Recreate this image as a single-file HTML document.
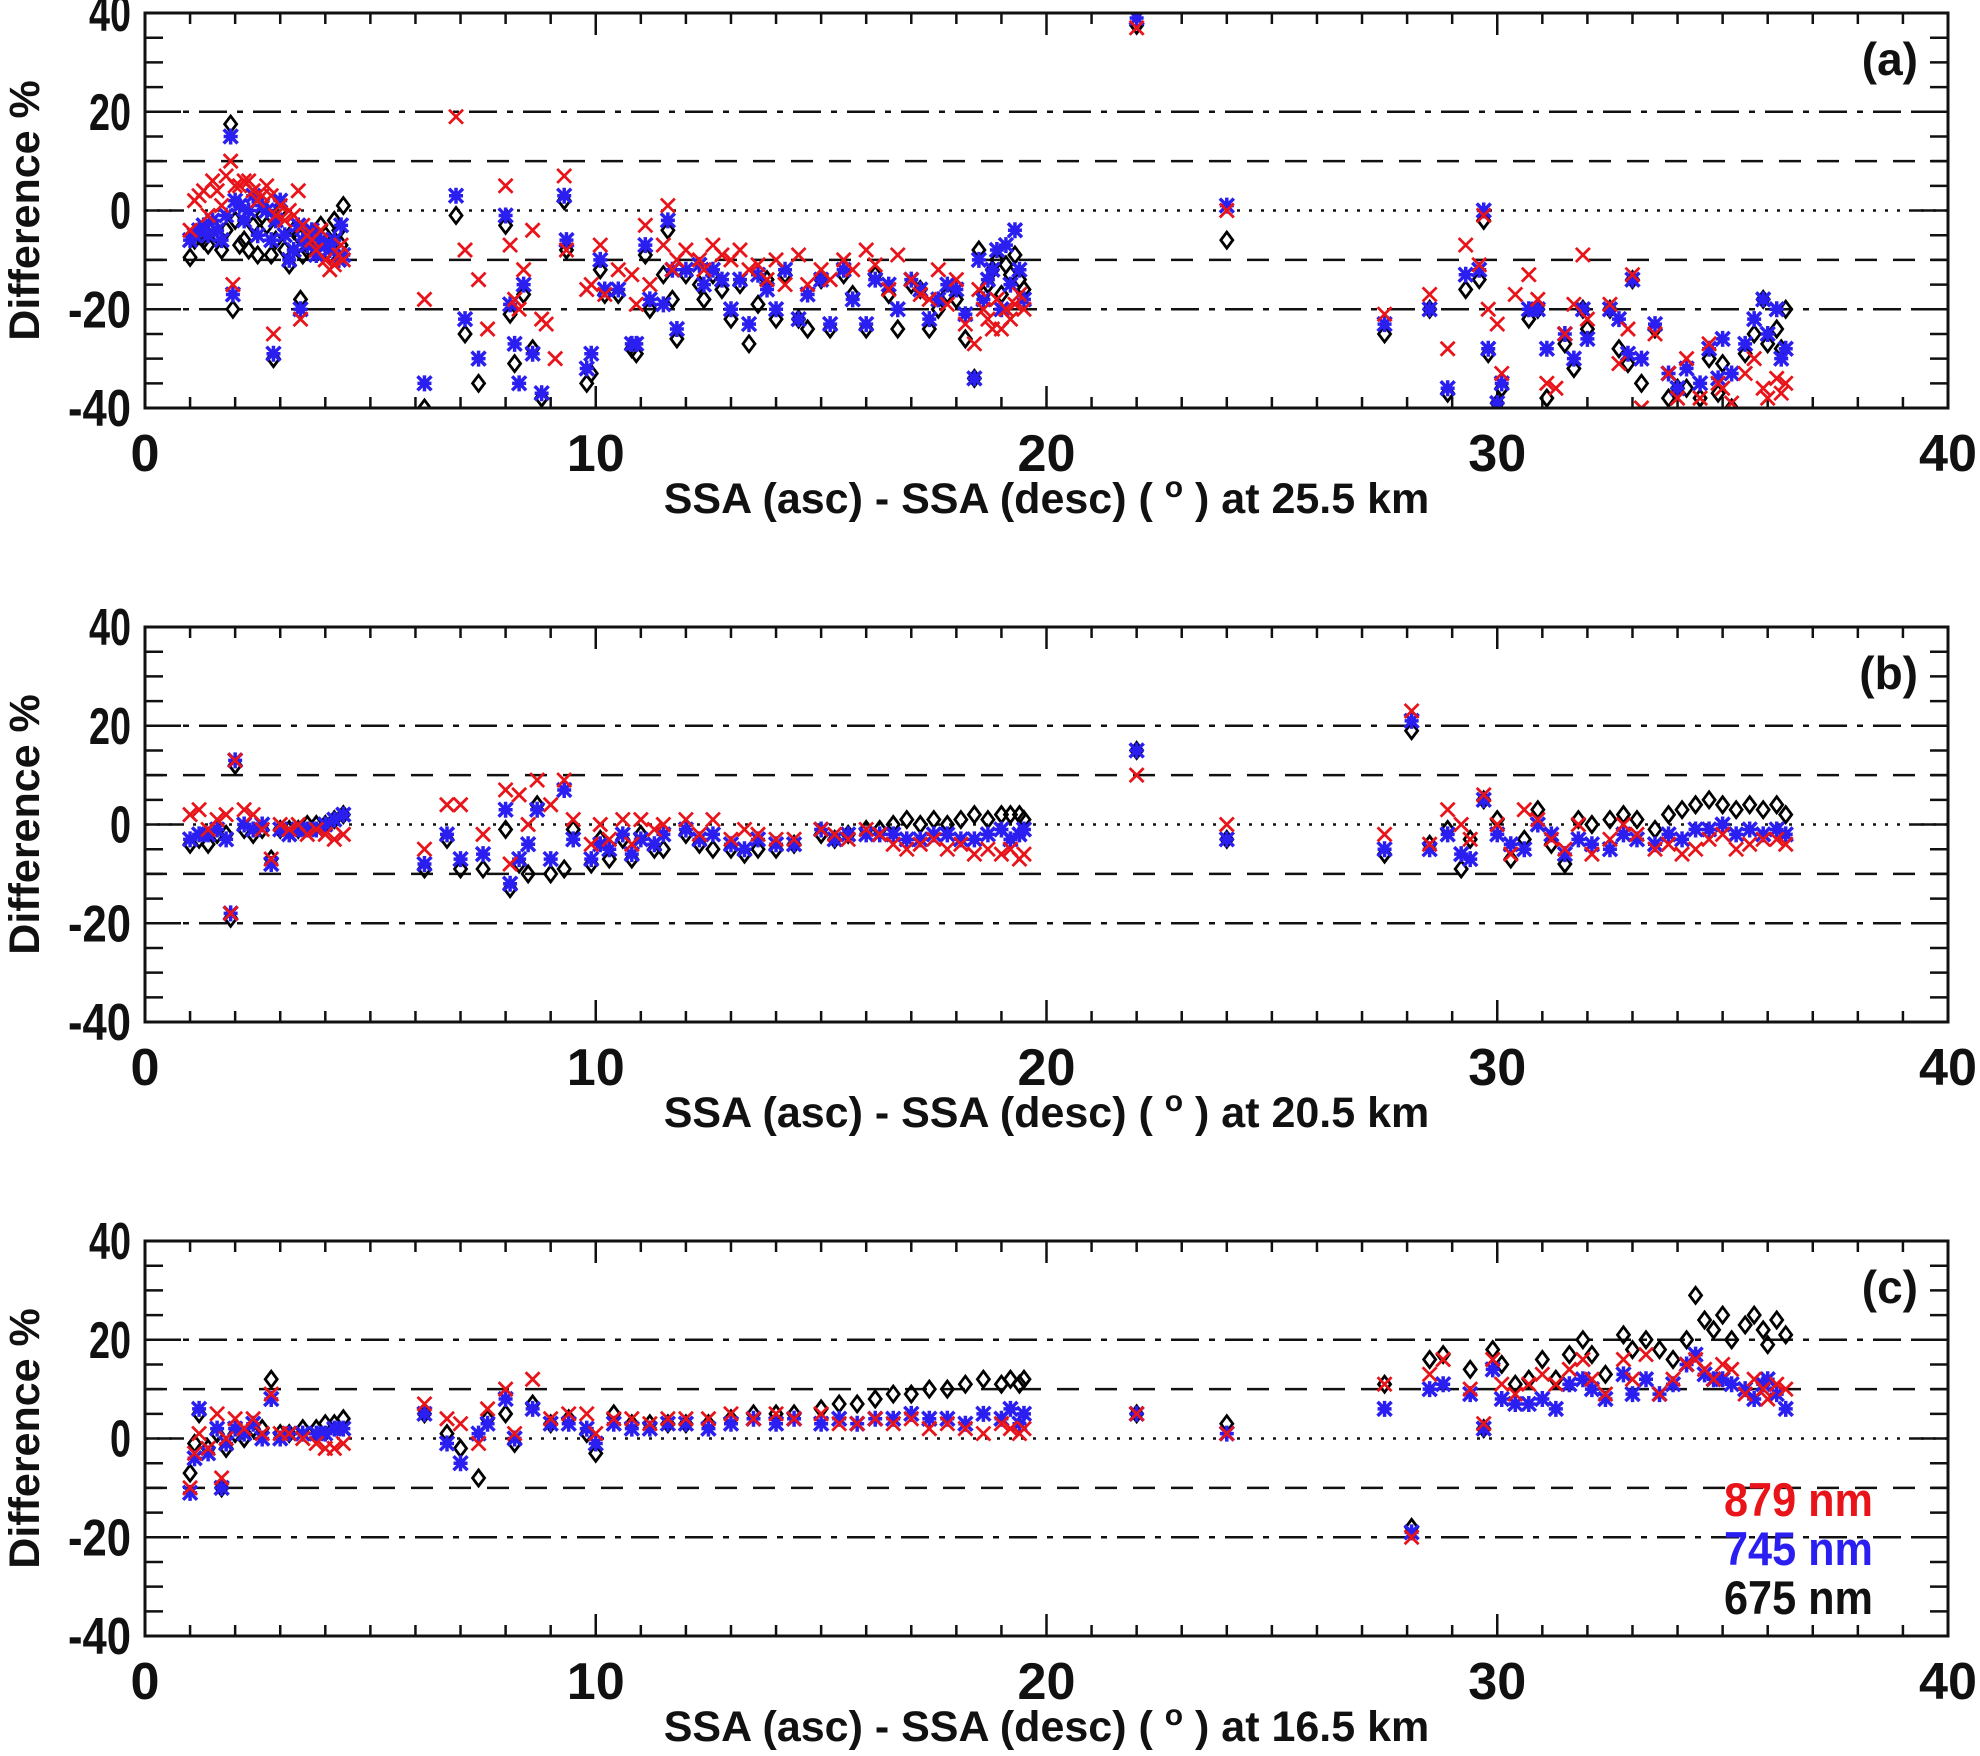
<!DOCTYPE html>
<html><head><meta charset="utf-8">
<style>
html,body{margin:0;padding:0;background:#fff;}
svg{display:block;font-family:"Liberation Sans",Arial,sans-serif;}
</style></head>
<body>
<svg id="chart" width="1980" height="1756" viewBox="0 0 1980 1756" xmlns="http://www.w3.org/2000/svg"></svg>
<script>
// ---- Data (x = SSA difference in degrees, values = Difference %) ----
const xTicks = [0, 10, 20, 30, 40];
const yTicks = [-40, -20, 0, 20, 40];
const panelLabels = ["(a)", "(b)", "(c)"];
const altitudes = ["25.5", "20.5", "16.5"];
const legendLabels = ["879 nm", "745 nm", "675 nm"];

const xA = [1.0,1.1,1.2,1.3,1.4,1.5,1.6,1.7,1.8,1.9,1.95,2.0,2.1,2.2,2.3,2.4,2.5,2.6,2.7,2.8,2.85,2.9,3.0,3.1,3.2,3.3,3.4,3.45,3.5,3.6,3.7,3.8,3.9,4.0,4.1,4.2,4.3,4.35,4.4,
6.2,6.9,7.1,7.4,7.6,8.0,8.1,8.2,8.3,8.4,8.6,8.8,8.9,9.1,9.3,9.35,9.8,9.9,10.1,10.2,10.5,10.8,10.9,11.1,11.2,11.5,11.6,11.7,11.8,12.0,12.3,12.4,12.6,12.8,13.0,13.2,13.4,13.6,13.8,14.0,14.2,14.5,14.7,15.0,15.2,15.5,15.7,16.0,16.2,16.5,16.7,17.0,17.2,17.4,17.6,17.8,18.0,18.2,18.4,18.5,18.6,18.7,18.8,18.9,19.0,19.1,19.2,19.3,19.4,19.5,
22.0,24.0,27.5,28.5,28.9,29.3,29.6,29.7,29.8,30.0,30.1,30.4,30.7,30.9,31.1,31.3,31.5,31.7,31.9,32.0,32.5,32.7,32.9,33.0,33.2,33.5,33.8,34.0,34.2,34.5,34.7,34.9,35.0,35.2,35.5,35.7,35.9,36.0,36.2,36.3,36.4];
const redA = [-4,2,3,4,-1,6,4,1,7,10,-15,5,5,6,6,4,2,3,5,3,-25,-1,1,-2,0,-1,4,-22,-3,-5,-6,-8,-4,-10,-12,-11,-9,-7,-10,
-18,19,-8,-14,-24,5,-7,-18,-20,-12,-4,-22,-23,-30,7,-8,-16,-15,-7,-17,-12,-13,-19,-3,-15,-7,1,-12,-10,-8,-10,-12,-7,-9,-10,-8,-12,-11,-14,-10,-15,-9,-15,-12,-14,-10,-12,-8,-11,-16,-9,-14,-17,-18,-12,-19,-14,-23,-27,-16,-20,-22,-24,-18,-24,-20,-22,-19,-17,-20,
37,0,-21,-17,-28,-7,-11,-1,-20,-23,-33,-17,-13,-18,-35,-36,-25,-19,-9,-22,-19,-31,-24,-13,-40,-25,-33,-38,-30,-38,-27,-35,-36,-39,-33,-30,-36,-38,-34,-37,-35];
const blueA = [-6,-5,-4,-3,-5,-2,-4,-6,-1,15,-17,2,1,-2,0,3,-5,1,0,-6,-29,-2,2,-5,-10,-8,-3,-20,-6,-7,-4,-9,-6,-7,-8,-6,-10,-3,-9,
-35,3,-22,-30,-42,-1,-19,-27,-35,-15,-29,-37,-42,-45,3,-6,-32,-29,-10,-16,-16,-27,-27,-7,-18,-19,-2,-12,-24,-12,-11,-15,-12,-14,-20,-14,-23,-13,-16,-20,-12,-22,-17,-14,-23,-12,-18,-23,-14,-15,-20,-14,-16,-22,-18,-15,-16,-21,-34,-10,-18,-14,-12,-8,-20,-7,-15,-4,-12,-18,
39,1,-23,-20,-36,-13,-12,0,-28,-39,-35,-42,-20,-20,-28,-43,-25,-30,-20,-26,-20,-22,-29,-14,-30,-23,-33,-36,-32,-35,-28,-34,-26,-33,-27,-22,-18,-25,-20,-30,-28];
const blackA = [-9.5,-6,-5,-6,-7,-3,-5,-8,-4,17.5,-20,-2,-7,-6,-8,-3,-9,-1,-3,-9,-30,-6,0,-8,-11,-4,-5,-18,-9,-8,-5,-7,-3,-5,-9,-2,-4,-7,1,
-40,-1,-25,-35,-42,-3,-21,-31,-42,-17,-28,-38,-42,-45,2,-8,-35,-33,-12,-17,-17,-28,-29,-9,-20,-13,-4,-18,-26,-13,-15,-18,-13,-16,-22,-15,-27,-19,-14,-22,-13,-22,-24,-14,-24,-13,-17,-24,-13,-17,-24,-15,-16,-24,-20,-17,-18,-26,-34,-8,-17,-15,-12,-10,-17,-11,-13,-9,-14,-16,
37.5,-6,-25,-20,-37,-16,-14,-2,-29,-39,-36,-42,-22,-20,-38,-43,-27,-32,-20,-24,-20,-28,-31,-14,-35,-24,-38,-36,-36,-38,-30,-37,-31,-40,-29,-25,-18,-27,-24,-28,-20];

const xB = [1.0,1.2,1.4,1.6,1.8,1.9,2.0,2.2,2.4,2.6,2.8,3.0,3.2,3.4,3.6,3.8,4.0,4.2,4.4,
6.2,6.7,7.0,7.5,8.0,8.1,8.3,8.5,8.7,9.0,9.3,9.5,9.9,10.1,10.3,10.6,10.8,11.0,11.3,11.5,12.0,12.3,12.6,13.0,13.3,13.6,14.0,14.4,15.0,15.3,15.6,16.0,16.3,16.6,16.9,17.2,17.5,17.8,18.1,18.4,18.7,19.0,19.2,19.4,19.5,
22.0,24.0,27.5,28.1,28.5,28.9,29.2,29.4,29.7,30.0,30.3,30.6,30.9,31.2,31.5,31.8,32.1,32.5,32.8,33.1,33.5,33.8,34.1,34.4,34.7,35.0,35.3,35.6,35.9,36.2,36.4];
const redB = [2,3,-1,1,2,-18,13,3,2,-1,-7,0,-1,0,-2,-1,-2,-3,-2,
-5,4,4,-2,7,-8,6,0,9,4,9,1,-4,0,-3,1,-4,1,-1,0,1,-2,1,-3,-1,-2,-3,-3,-1,-2,-3,-1,-2,-4,-5,-4,-3,-5,-4,-6,-5,-6,-5,-7,-6,
10,0,-2,23,-4,3,0,-3,6,0,-6,3,1,-3,-5,0,-6,-3,0,-2,-5,-4,-6,-5,-3,-2,-5,-4,-3,-3,-4];
const blueB = [-3,-2,-2,-1,-3,-18,13,0,-1,0,-8,-1,-2,-1,-1,-1,0,1,2,
-8,-2,-7,-6,3,-12,-7,-4,3,-7,7,-3,-7,-4,-5,-2,-6,-3,-4,-2,-1,-3,-2,-4,-5,-3,-4,-4,-1,-3,-2,-2,-2,-2,-3,-3,-2,-2,-3,-3,-2,-1,-3,-2,-1,
15,-3,-5,21,-5,-2,-6,-7,5,-2,-4,-5,0,-2,-6,-3,-4,-5,-2,-3,-4,-2,-3,-1,-1,0,-2,-1,-2,-1,-2];
const blackB = [-4,-3,-4,-2,-2,-19,12,-1,-2,-1,-7,-1,-1,-1,0,0,0,1,2,
-9,-3,-9,-9,-1,-13,-8,-10,4,-10,-9,-1,-8,-3,-7,-3,-7,-2,-5,-5,-2,-4,-5,-5,-6,-5,-5,-4,-2,-3,-2,-1,-1,0,1,0,1,0,1,2,1,2,2,2,1,
15,-3,-6,19,-4,-1,-9,-3,5,1,-7,-3,3,-4,-8,1,0,1,2,1,-1,2,3,4,5,4,3,4,3,4,2];

const xC = [1.0,1.1,1.2,1.4,1.6,1.7,1.8,2.0,2.2,2.4,2.6,2.8,3.0,3.2,3.5,3.8,4.0,4.2,4.4,
6.2,6.7,7.0,7.4,7.6,8.0,8.2,8.6,9.0,9.4,9.8,10.0,10.4,10.8,11.2,11.6,12.0,12.5,13.0,13.5,14.0,14.4,15.0,15.4,15.8,16.2,16.6,17.0,17.4,17.8,18.2,18.6,19.0,19.2,19.4,19.5,
22.0,24.0,27.5,28.1,28.5,28.8,29.4,29.7,29.9,30.1,30.4,30.7,31.0,31.3,31.6,31.9,32.1,32.4,32.8,33.0,33.3,33.6,33.9,34.2,34.4,34.6,34.8,35.0,35.2,35.5,35.7,35.9,36.0,36.2,36.4];
const redC = [-10,-3,1,-2,5,-8,0,4,2,4,1,9,1,1,0,-1,-2,-2,-1,
7,4,3,-1,6,10,1,12,4,5,5,1,4,4,3,4,4,4,5,4,5,4,5,3,3,4,3,4,2,3,2,1,3,2,1,2,
5,1,11,-20,13,16,10,3,16,11,9,11,13,11,14,16,12,9,16,12,17,9,12,15,16,14,12,15,14,9,12,10,8,11,10];
const blueC = [-11,-4,6,-3,2,-10,-1,2,1,3,0,8,0,1,1,1,1,2,2,
5,-1,-5,1,3,8,0,6,3,3,2,-1,3,2,2,3,3,2,3,4,3,4,3,4,3,4,4,5,4,4,3,5,4,6,3,5,
5,1,6,-19,10,11,9,2,14,8,7,7,8,6,11,12,10,8,13,9,12,9,11,15,17,13,12,12,11,10,8,11,12,9,6];
const blackC = [-7,-1,5,-2,1,-10,-2,1,0,2,2,12,1,1,2,2,3,3,4,
5,1,-2,-8,4,5,-1,7,3,4,1,-3,5,3,3,3,3,3,4,5,5,5,6,7,7,8,9,9,10,10,11,12,11,12,11,12,
5,3,11,-18,16,17,14,2,18,15,11,12,16,12,17,20,17,13,21,18,20,18,16,20,29,24,22,25,20,23,25,22,19,24,21];

const panels = [
  {x: xA, red: redA, blue: blueA, black: blackA},
  {x: xB, red: redB, blue: blueB, black: blackB},
  {x: xC, red: redC, blue: blueC, black: blackC}
];

// ---- Layout ----
const NS = "http://www.w3.org/2000/svg";
const svg = document.getElementById("chart");
const L = 145, R = 1948, H = 395;
const tops = [13, 627, 1241];
function xs(v){ return L + (v - 0) / 40 * (R - L); }
function ysFor(top){ return function(v){ return top + (40 - v) / 80 * H; }; }

function mk(tag, attrs, parent){
  const e = document.createElementNS(NS, tag);
  for (const k in attrs) e.setAttribute(k, attrs[k]);
  (parent || svg).appendChild(e);
  return e;
}

panels.forEach(function(p, pi){
  const top = tops[pi];
  const ys = ysFor(top);
  const g = mk("g", {});
  
  

  const refs = [[20,"28 10 6 10"],[-20,"28 10 6 10"],[10,"22 16"],[-10,"22 16"],[0,"3 9"]];
  refs.forEach(function(r){
    const ln = mk("line", {x1:L, x2:R, y1:ys(r[0]), y2:ys(r[0]), stroke:"#111", "stroke-width":2.5, "stroke-dasharray":r[1]}, g);
    
    
  });

  for (let v = 0; v <= 40; v += 1){
    if (v === 0 || v === 40) continue;
    const len = (v % 10 === 0) ? 22 : 11;
    mk("line", {x1:xs(v), x2:xs(v), y1:top, y2:top+len, stroke:"#111","stroke-width":2.5}, g);
    mk("line", {x1:xs(v), x2:xs(v), y1:top+H, y2:top+H-len, stroke:"#111","stroke-width":2.5}, g);
  }
  for (let v = -35; v <= 35; v += 5){
    const len = (v % 20 === 0) ? 36 : 18;
    mk("line", {x1:L, x2:L+len, y1:ys(v), y2:ys(v), stroke:"#111","stroke-width":2.5}, g);
    mk("line", {x1:R, x2:R-len, y1:ys(v), y2:ys(v), stroke:"#111","stroke-width":2.5}, g);
  }

  const clip = "clip" + pi;
  const cp = mk("clipPath", {id: clip}, g);
  mk("rect", {x:L, y:top, width:R-L, height:H}, cp);
  const marks = mk("g", {"clip-path": "url(#" + clip + ")"}, g);

  p.x.forEach(function(xv, i){
    const cx = xs(xv), cy = ys(p.black[i]);
    const d = mk("path", {d:"M"+cx+" "+(cy-8)+"L"+(cx+6)+" "+cy+"L"+cx+" "+(cy+8)+"L"+(cx-6)+" "+cy+"Z", fill:"none", stroke:"#000","stroke-width":2.8}, marks);
    
    
  });
  p.x.forEach(function(xv, i){
    const cx = xs(xv), cy = ys(p.blue[i]), s = 7;
    const d = mk("path", {d:"M"+(cx-s)+" "+(cy-s)+"L"+(cx+s)+" "+(cy+s)+"M"+(cx+s)+" "+(cy-s)+"L"+(cx-s)+" "+(cy+s)+"M"+cx+" "+(cy-s-1)+"L"+cx+" "+(cy+s+1)+"M"+(cx-s)+" "+cy+"L"+(cx+s)+" "+cy, stroke:"#2a1ff0","stroke-width":3.5, fill:"none"}, marks);
    
    
  });
  p.x.forEach(function(xv, i){
    const cx = xs(xv), cy = ys(p.red[i]), s = 7;
    const d = mk("path", {d:"M"+(cx-s)+" "+(cy-s)+"L"+(cx+s)+" "+(cy+s)+"M"+(cx+s)+" "+(cy-s)+"L"+(cx-s)+" "+(cy+s), stroke:"#e8141a","stroke-width":2.8, fill:"none"}, marks);
    
    
  });

  const fr = mk("rect", {x:L, y:top, width:R-L, height:H, fill:"none", stroke:"#111","stroke-width":3}, g);
  
  

  yTicks.forEach(function(v){
    const t = mk("text", {x:131, y:ys(v)+18, "text-anchor":"end", "font-size":52, "font-weight":"bold", fill:"#111", "textLength": (String(v).length*21), "lengthAdjust":"spacingAndGlyphs"}, g);
    t.textContent = String(v);
    
    
  });
  xTicks.forEach(function(v){
    const t = mk("text", {x:xs(v), y:top+H+63, "text-anchor":"middle", "font-size":52, "font-weight":"bold", fill:"#111", "textLength": (String(v).length*29), "lengthAdjust":"spacingAndGlyphs"}, g);
    t.textContent = String(v);
    
    
  });
  const xt = mk("text", {x:(L+R)/2, y:top+H+105, "text-anchor":"middle", "font-size":43, "font-weight":"bold", fill:"#111"}, g);
  xt.innerHTML = 'SSA (asc) - SSA (desc) ( <tspan dy="-16" font-size="30">o</tspan><tspan dy="16"> ) at ' + altitudes[pi] + ' km</tspan>';
  
  
  const yt = mk("text", {x:0, y:0, transform:"translate(39," + (top+H/2) + ") rotate(-90)", "text-anchor":"middle", "font-size":43, "font-weight":"bold", fill:"#111"}, g);
  yt.textContent = "Difference %";
  
  
  const pl = mk("text", {x:1918, y:top+62, "text-anchor":"end", "font-size":46, "font-weight":"bold", fill:"#111"}, g);
  pl.textContent = panelLabels[pi];
  
  
});

const legColors = ["#e8141a", "#2a1ff0", "#111"];
const legY = [1516, 1565, 1614];
legendLabels.forEach(function(lbl, i){
  const t = mk("text", {x:1873, y:legY[i], "text-anchor":"end", "font-size":47, "font-weight":"bold", fill:legColors[i], "textLength":149, "lengthAdjust":"spacingAndGlyphs"});
  t.textContent = lbl;
  
  
});
</script>
</body></html>
